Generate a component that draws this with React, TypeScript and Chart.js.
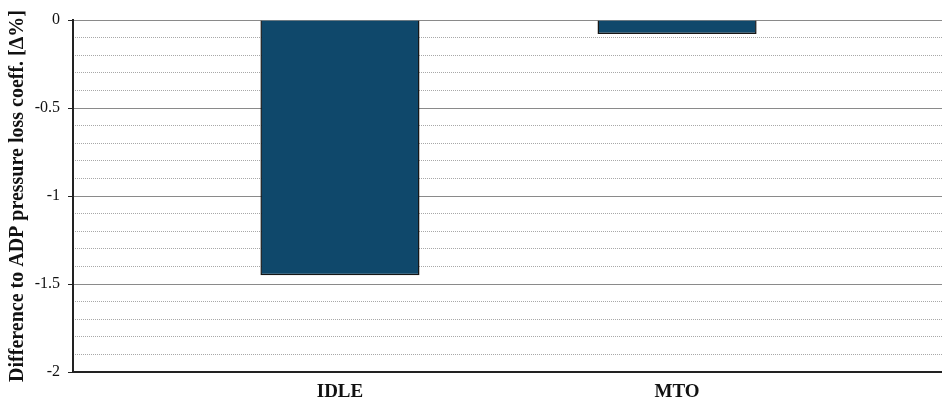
import React, { useEffect, useRef } from "react";
import { Chart, registerables } from "chart.js";

Chart.register(...registerables);

const categories: string[] = ["IDLE", "MTO"];
const values: number[] = [-1.45, -0.08];
const yMin = -2;
const yMax = 0;
const majorStep = 0.5;
const minorStep = 0.1;

const FONT = "'Liberation Serif', 'Times New Roman', serif";

export default function App() {
  const ref = useRef<HTMLCanvasElement | null>(null);

  useEffect(() => {
    document.body.style.margin = "0";
    const canvas = ref.current;
    if (!canvas) return;
    const chart = new Chart(canvas, {
      type: "bar",
      data: {
        datasets: [
          {
            data: categories.map((c, i) => ({ x: i, y: values[i] })),
            backgroundColor: "#0f486b",
            borderColor: "#161616",
            borderWidth: 1.5,
            barPercentage: 0.472,
            categoryPercentage: 1,
            yAxisID: "y",
            xAxisID: "x",
          },
        ],
      },
      options: {
        animation: false,
        responsive: false,
        maintainAspectRatio: false,
        layout: { padding: { top: 20, left: 0, right: 0, bottom: 0 } },
        plugins: { legend: { display: false }, tooltip: { enabled: false } },
        scales: {
          x: {
            type: "linear",
            position: "bottom",
            offset: false,
            bounds: "data",
            min: -0.792,
            max: 1.786,
            afterBuildTicks: (scale: any) => {
              scale.ticks = categories.map((_, i) => ({ value: i }));
            },
            afterFit: (scale: any) => {
              scale.height = 32;
            },
            ticks: {
              callback: (v: any) => categories[Number(v)] ?? "",
              color: "#111",
              font: { family: FONT, size: 19, weight: "bold" },
              padding: 9,
              maxRotation: 0,
              autoSkip: false,
            },
            grid: { display: false, drawTicks: false, offset: false },
            border: { display: true, color: "#222", width: 2 },
          },
          y: {
            type: "linear",
            position: "left",
            min: yMin,
            max: yMax,
            afterFit: (scale: any) => {
              scale.width = 0;
            },
            ticks: { display: false, stepSize: minorStep },
            grid: {
              drawTicks: false,
              color: (ctx: any) => {
                const v = ctx.tick ? ctx.tick.value : 0;
                const r = Math.abs(v / majorStep - Math.round(v / majorStep));
                return r < 1e-6 ? "rgba(0,0,0,0)" : "#a8a8a8";
              },
              lineWidth: 1,
            },
            border: { display: false, dash: [1, 1] },
          },
          y2: {
            type: "linear",
            position: "left",
            min: yMin,
            max: yMax,
            afterFit: (scale: any) => {
              scale.width = 73;
            },
            ticks: {
              stepSize: majorStep,
              color: "#111",
              font: { family: FONT, size: 16 },
              padding: 8,
              callback: (v: any) => String(Math.round(Number(v) * 10) / 10),
            },
            grid: {
              color: "#8a8a8a",
              lineWidth: 1,
              drawTicks: true,
              tickLength: 5,
              tickColor: "#222",
            },
            border: { display: true, color: "#222", width: 2 },
            title: {
              display: true,
              text: "Difference to ADP pressure loss coeff. [Δ%]",
              color: "#111",
              font: { family: FONT, size: 20, weight: "bold" },
              padding: { top: 6, bottom: 0 },
            },
          },
        },
      },
    });
    return () => chart.destroy();
  }, []);

  return (
    <div style={{ width: 942, height: 404 }}>
      <canvas ref={ref} width={942} height={404} style={{ display: "block" }} />
    </div>
  );
}
